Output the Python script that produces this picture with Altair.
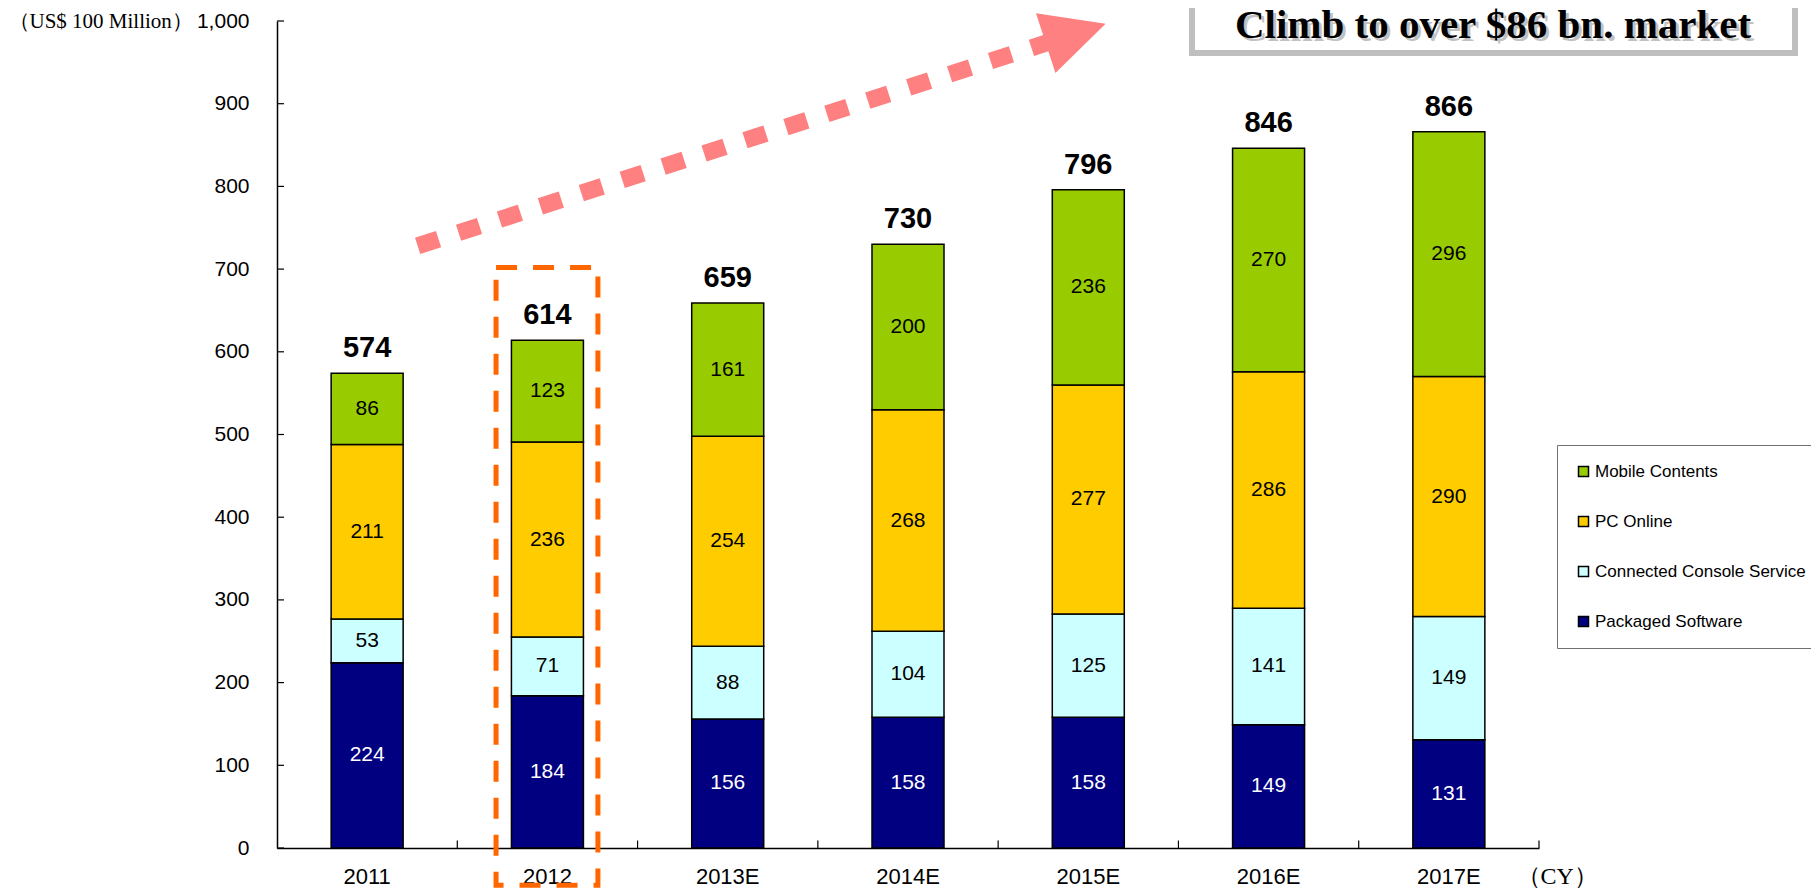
import altair as alt
import pandas as pd

years = ["2011", "2012", "2013E", "2014E", "2015E", "2016E", "2017E"]
packaged = [224, 184, 156, 158, 158, 149, 131]
console = [53, 71, 88, 104, 125, 141, 149]
pc_online = [211, 236, 254, 268, 277, 286, 290]
mobile = [86, 123, 161, 200, 236, 270, 296]

series_names = ["Packaged Software", "Connected Console Service", "PC Online", "Mobile Contents"]
legend_order = ["Mobile Contents", "PC Online", "Connected Console Service", "Packaged Software"]
legend_colors = ["#99CC00", "#FFCC00", "#CCFFFF", "#000080"]
y_ticks = [0, 100, 200, 300, 400, 500, 600, 700, 800, 900, 1000]
headline = ["Climb to over $86 bn. market"]

rows = []
for i, (name, vals) in enumerate(zip(series_names, [packaged, console, pc_online, mobile])):
    for y, v in zip(years, vals):
        rows.append({"year": y, "series": name, "value": v, "order": i})
df = pd.DataFrame(rows)

SANS = "Liberation Sans, Arial, sans-serif"
NARROW = "Liberation Sans Narrow, Arial Narrow, Liberation Sans, sans-serif"
SERIF = "Liberation Serif, Times New Roman, serif"

xscale = alt.Scale(domain=years, paddingInner=0, paddingOuter=0)
yscale = alt.Scale(domain=[0, 1000])

stacked = alt.Chart(df).transform_stack(
    stack="value", groupby=["year"], as_=["v0", "v1"],
    sort=[alt.SortField("order", order="ascending")]
).transform_calculate(mid="(datum.v0 + datum.v1) / 2")

bars = stacked.mark_bar(stroke="black", strokeWidth=1.5, width=72).encode(
    x=alt.X("year:N", scale=xscale, sort=years,
            axis=alt.Axis(labelAngle=0, labelFontSize=22, labelFont=SANS, labelColor="black",
                          ticks=False, labelPadding=18, domainColor="black", domainWidth=1.5,
                          grid=False, title="（CY）", titleFont=SERIF, titleFontSize=24,
                          titleFontWeight="normal", titleColor="black", titleX=1239, titleY=28,
                          titleAlign="left", titleBaseline="middle")),
    y=alt.Y("v0:Q", scale=yscale,
            axis=alt.Axis(values=y_ticks, format=",d", labelFontSize=21, labelFont=SANS,
                          labelColor="black", ticks=False, labelPadding=28, domainColor="black",
                          domainWidth=1.5, grid=False, title="（US$ 100 Million）",
                          titleFont=SERIF, titleFontSize=21, titleFontWeight="normal",
                          titleColor="black", titleAngle=0, titleX=-269, titleY=0,
                          titleAlign="left", titleBaseline="middle")),
    y2="v1:Q",
    color=alt.Color("series:N", scale=alt.Scale(domain=legend_order, range=legend_colors),
                    legend=alt.Legend(title=None, orient="none", legendX=1280, legendY=424,
                                      strokeColor="#707070", padding=18, rowPadding=32,
                                      symbolType="square", symbolSize=100,
                                      symbolStrokeColor="black", symbolStrokeWidth=1.5,
                                      symbolOpacity=1, labelFontSize=17, labelFont=SANS,
                                      labelColor="black", labelOffset=3, labelLimit=400)),
)

seg_labels = stacked.mark_text(fontSize=21, font=SANS, baseline="middle").encode(
    x=alt.X("year:N", scale=xscale, sort=years),
    y=alt.Y("mid:Q", scale=yscale),
    text="value:Q",
    color=alt.when(alt.datum.series == "Packaged Software")
    .then(alt.value("white")).otherwise(alt.value("black")),
)

totals = alt.Chart(df).transform_aggregate(
    total="sum(value)", groupby=["year"]
).mark_text(fontSize=29, fontWeight="bold", font=NARROW, baseline="middle", dy=-25,
            color="black").encode(
    x=alt.X("year:N", scale=xscale, sort=years),
    y=alt.Y("total:Q", scale=yscale),
    text="total:Q",
)

# inward ticks
ytick_df = pd.DataFrame({"t": y_ticks})
yticks = alt.Chart(ytick_df).mark_rule(color="black", strokeWidth=1.2).encode(
    y=alt.Y("t:Q", scale=yscale), x=alt.value(0), x2=alt.value(7)
)
xtick_df = pd.DataFrame({"year": years[1:]})
xticks = alt.Chart(xtick_df).mark_rule(color="black", strokeWidth=1.2).encode(
    x=alt.X("year:N", scale=xscale, sort=years, bandPosition=0),
    y=alt.YDatum(0), y2=alt.Y2Datum(9),
)
one = pd.DataFrame({"a": [0]})
xtick_end = alt.Chart(one).mark_rule(color="black", strokeWidth=1.2).encode(
    x=alt.XDatum(years[-1], type="nominal", bandPosition=1),
    y=alt.YDatum(0), y2=alt.Y2Datum(9),
)

# highlight box around 2012
highlight = alt.Chart(one).mark_rect(filled=False, stroke="#FF6600", strokeWidth=5,
                                     strokeDash=[21, 16]).encode(
    x=alt.XDatum("2012", type="nominal", bandPosition=0.215),
    x2=alt.X2Datum("2012", bandPosition=0.78),
    y=alt.YDatum(702), y2=alt.Y2Datum(-45),
)

# dashed arrow
arrow_line = alt.Chart(one).mark_rule(color="#FF8080", strokeWidth=17, strokeDash=[22, 21],
                                      strokeCap="butt").encode(
    x=alt.XDatum("2011", type="nominal", bandPosition=0.78),
    x2=alt.X2Datum("2015E", bandPosition=0.29),
    y=alt.YDatum(728), y2=alt.Y2Datum(975),
)
arrow_head = alt.Chart(one).mark_point(shape="M1,0L-1,-1L-1,1Z", filled=True, size=3969,
                                       angle=342, color="#FF8080", opacity=1).encode(
    x=alt.XDatum("2015E", type="nominal", bandPosition=0.43),
    y=alt.YDatum(985),
)

# headline box
hl_df = pd.DataFrame({"txt": headline})
hl_box = alt.Chart(hl_df).mark_rect(fill="white", stroke="#BFBFBF", strokeWidth=6).encode(
    x=alt.value(915), x2=alt.value(1518), y=alt.value(-30), y2=alt.value(32)
)
hl_shadow = alt.Chart(hl_df).mark_text(font=SERIF, fontSize=41, fontWeight="bold",
                                       color="#909090", opacity=0.55, align="center",
                                       baseline="alphabetic").encode(
    x=alt.value(1219), y=alt.value(20), text="txt:N"
)
hl_text = alt.Chart(hl_df).mark_text(font=SERIF, fontSize=41, fontWeight="bold",
                                     color="black", align="center",
                                     baseline="alphabetic").encode(
    x=alt.value(1216), y=alt.value(17), text="txt:N"
)

chart = alt.layer(
    bars, seg_labels, totals, yticks, xticks, xtick_end, highlight, arrow_line, arrow_head,
    hl_box, hl_shadow, hl_text
).properties(
    width=1262, height=827, autosize="none",
    padding={"left": 269, "top": 13, "right": 272, "bottom": 40},
    background="white",
).configure_view(stroke=None)

chart.save("out.html", embed_options={"renderer": "svg", "actions": False})
